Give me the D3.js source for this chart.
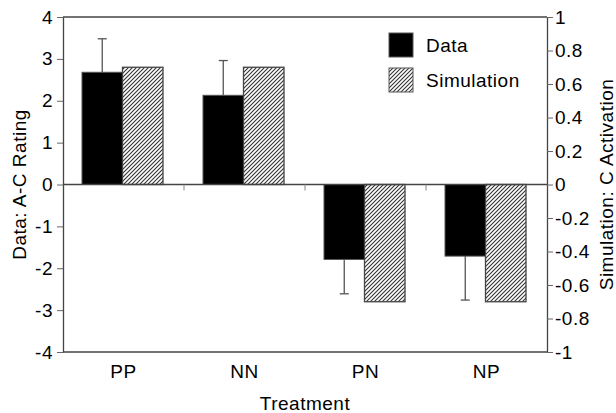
<!DOCTYPE html>
<html>
<head>
<meta charset="utf-8">
<script src="https://cdn.jsdelivr.net/npm/d3@7"></script>
<style>
  body { margin: 0; background: #fff; }
  svg { display: block; font-family: "Liberation Sans", Arial, sans-serif; }
</style>
</head>
<body>
<div id="chart"></div>
<script>
// Chart values
const treatments = ["PP", "NN", "PN", "NP"];
const dataRating = [2.68, 2.13, -1.79, -1.71];
const dataError = [0.8, 0.83, -0.82, -1.05];
const simActivation = [0.7, 0.7, -0.7, -0.7];
const leftTicks = [-4, -3, -2, -1, 0, 1, 2, 3, 4];
const rightTicks = [-1, -0.8, -0.6, -0.4, -0.2, 0, 0.2, 0.4, 0.6, 0.8, 1];

const width = 616, height = 413;
const margin = { top: 17, right: 69, bottom: 61, left: 63 };
const lineColor = "#444";
const fontSize = 19;
const spacing = "0.5px";

const svg = d3.select("#chart").append("svg")
    .attr("width", width)
    .attr("height", height);

// Hatch pattern for the simulation bars
const defs = svg.append("defs");
defs.append("pattern")
    .attr("id", "hatch")
    .attr("patternUnits", "userSpaceOnUse")
    .attr("width", 4)
    .attr("height", 4)
    .call(function(p) {
        p.append("rect").attr("width", 4).attr("height", 4).attr("fill", "#fff");
        p.append("path")
            .attr("d", "M-1,1 l2,-2 M0,4 l4,-4 M3,5 l2,-2")
            .attr("stroke", "#333")
            .attr("stroke-width", 1.1);
    });

const x = d3.scaleBand()
    .domain(treatments)
    .range([margin.left, width - margin.right]);

const yLeft = d3.scaleLinear()
    .domain([-4, 4])
    .range([height - margin.bottom, margin.top]);

const yRight = d3.scaleLinear()
    .domain([-1, 1])
    .range([height - margin.bottom, margin.top]);

const pad = 19, barW = 40.5;

// Data bars
svg.append("g")
    .selectAll("rect")
    .data(treatments)
    .join("rect")
    .attr("x", function(d) { return x(d) + pad; })
    .attr("width", barW)
    .attr("y", function(d, i) { return Math.min(yLeft(dataRating[i]), yLeft(0)); })
    .attr("height", function(d, i) { return Math.abs(yLeft(dataRating[i]) - yLeft(0)); })
    .attr("fill", "#000")
    .attr("stroke", "#555")
    .attr("stroke-width", 1);

// Simulation bars
svg.append("g")
    .selectAll("rect")
    .data(treatments)
    .join("rect")
    .attr("x", function(d) { return x(d) + pad + barW; })
    .attr("width", barW)
    .attr("y", function(d, i) { return Math.min(yRight(simActivation[i]), yRight(0)); })
    .attr("height", function(d, i) { return Math.abs(yRight(simActivation[i]) - yRight(0)); })
    .attr("fill", "url(#hatch)")
    .attr("stroke", "#444")
    .attr("stroke-width", 1.3);

// Error bars (one-sided, away from zero)
const err = svg.append("g")
    .attr("stroke", "#555")
    .attr("stroke-width", 1.3)
    .selectAll("g")
    .data(treatments)
    .join("g")
    .attr("transform", function(d) { return `translate(${x(d) + pad + barW / 2},0)`; });

err.append("line")
    .attr("y1", function(d, i) { return yLeft(dataRating[i]); })
    .attr("y2", function(d, i) { return yLeft(dataRating[i] + dataError[i]); });

err.append("line")
    .attr("x1", -4.5).attr("x2", 4.5)
    .attr("y1", function(d, i) { return yLeft(dataRating[i] + dataError[i]); })
    .attr("y2", function(d, i) { return yLeft(dataRating[i] + dataError[i]); });

// Frame: top and bottom lines
svg.append("line")
    .attr("x1", margin.left).attr("x2", width - margin.right)
    .attr("y1", margin.top).attr("y2", margin.top)
    .attr("stroke", lineColor).attr("stroke-width", 1.3);

svg.append("line")
    .attr("x1", margin.left).attr("x2", width - margin.right)
    .attr("y1", height - margin.bottom).attr("y2", height - margin.bottom)
    .attr("stroke", lineColor).attr("stroke-width", 1.3);

// Zero line with ticks between categories
svg.append("line")
    .attr("x1", margin.left).attr("x2", width - margin.right)
    .attr("y1", yLeft(0)).attr("y2", yLeft(0))
    .attr("stroke", lineColor).attr("stroke-width", 1.3);

svg.append("g")
    .selectAll("line")
    .data(treatments.slice(1))
    .join("line")
    .attr("x1", function(d) { return x(d); })
    .attr("x2", function(d) { return x(d); })
    .attr("y1", yLeft(0))
    .attr("y2", yLeft(0) + 6)
    .attr("stroke", "#888")
    .attr("stroke-width", 1);

// Category labels
svg.append("g")
    .attr("font-size", fontSize)
    .attr("letter-spacing", spacing)
    .attr("text-anchor", "middle")
    .selectAll("text")
    .data(treatments)
    .join("text")
    .attr("x", function(d) { return x(d) + x.bandwidth() / 2; })
    .attr("y", 371)
    .attr("dy", "0.35em")
    .text(function(d) { return d; });

// Left axis
const leftAxis = svg.append("g")
    .attr("transform", `translate(${margin.left},0)`)
    .call(d3.axisLeft(yLeft).tickValues(leftTicks).tickSize(6).tickPadding(4).tickSizeOuter(0)
        .tickFormat(function(d) { return String(d); }));

// Right axis
const rightAxis = svg.append("g")
    .attr("transform", `translate(${width - margin.right},0)`)
    .call(d3.axisRight(yRight).tickValues(rightTicks).tickSize(6).tickPadding(2).tickSizeOuter(0)
        .tickFormat(function(d) { return String(d); }));

[leftAxis, rightAxis].forEach(function(g) {
    g.attr("font-family", null).attr("font-size", fontSize).attr("letter-spacing", spacing);
    g.select(".domain").attr("stroke", lineColor).attr("stroke-width", 1.3);
    g.selectAll(".tick line").attr("stroke", "#666");
    g.selectAll(".tick text").attr("fill", "#000");
});

// Axis titles
svg.append("text")
    .attr("transform", `translate(26,${yLeft(0)}) rotate(-90)`)
    .attr("text-anchor", "middle")
    .attr("font-size", fontSize)
    .attr("letter-spacing", spacing)
    .text("Data: A-C Rating");

svg.append("text")
    .attr("transform", `translate(613,${yLeft(0)}) rotate(-90)`)
    .attr("text-anchor", "middle")
    .attr("font-size", fontSize)
    .attr("letter-spacing", spacing)
    .text("Simulation: C Activation");

svg.append("text")
    .attr("x", (margin.left + width - margin.right) / 2)
    .attr("y", 403.5)
    .attr("dy", "0.35em")
    .attr("text-anchor", "middle")
    .attr("font-size", fontSize)
    .attr("letter-spacing", spacing)
    .text("Treatment");

// Legend
const legendItems = [
    { label: "Data", fill: "#000" },
    { label: "Simulation", fill: "url(#hatch)" }
];

const legend = svg.append("g")
    .selectAll("g")
    .data(legendItems)
    .join("g")
    .attr("transform", function(d, i) { return `translate(389,${33 + i * 35})`; });

legend.append("rect")
    .attr("width", 24)
    .attr("height", 24)
    .attr("fill", function(d) { return d.fill; })
    .attr("stroke", "#555")
    .attr("stroke-width", 1);

legend.append("text")
    .attr("x", 37)
    .attr("y", 12)
    .attr("dy", "0.35em")
    .attr("font-size", fontSize)
    .attr("letter-spacing", spacing)
    .text(function(d) { return d.label; });
</script>
</body>
</html>
